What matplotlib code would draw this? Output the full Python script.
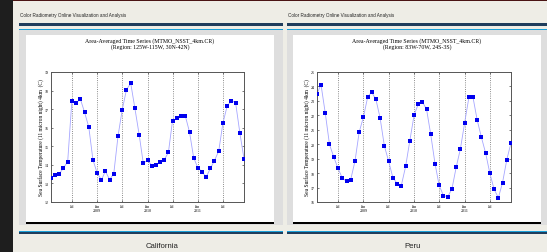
import matplotlib
matplotlib.use('Agg')
import matplotlib.pyplot as plt
from matplotlib.patches import Rectangle
import pandas as pd

# monthly SST, Feb 2008 .. Dec 2011
months = pd.date_range('2008-02-01', '2011-12-01', freq='MS')
california = [13.28, 13.48, 13.52, 13.82, 14.18, 17.42, 17.33, 17.54, 16.84, 16.03,
              14.27, 13.55, 13.19, 13.66, 13.21, 13.53, 15.56, 16.95, 18.05, 18.39,
              17.05, 15.63, 14.08, 14.26, 13.96, 14.00, 14.15, 14.26, 14.67, 16.38,
              16.50, 16.63, 16.65, 15.77, 14.39, 13.83, 13.63, 13.33, 13.81, 14.23,
              14.75, 16.24, 17.17, 17.46, 17.35, 15.72, 14.33]
peru = [23.49, 24.12, 22.13, 19.99, 19.11, 18.34, 17.67, 17.42, 17.55, 18.83,
        20.83, 21.89, 23.29, 23.61, 23.10, 21.82, 19.87, 18.85, 17.69, 17.28,
        17.14, 18.46, 20.22, 22.01, 22.80, 22.95, 22.42, 20.69, 18.66, 17.15,
        16.44, 16.37, 16.90, 18.42, 19.67, 21.50, 23.28, 23.30, 21.68, 20.50,
        19.39, 18.01, 16.88, 16.30, 17.34, 18.94, 20.10]
tick_dates = pd.to_datetime(['2008-07-01', '2009-01-01', '2009-07-01', '2010-01-01',
                             '2010-07-01', '2011-01-01', '2011-07-01'])
tick_labels = ['Jul', 'Jan\n2009', 'Jul', 'Jan\n2010', 'Jul', 'Jan\n2011', 'Jul']

W, H = 547, 253
fig = plt.figure(figsize=(W / 100, H / 100), dpi=100, facecolor='#eeede6')


def box(x0, y0, x1, y1, color):
    fig.add_artist(Rectangle((x0 / W, 1 - y1 / H), (x1 - x0) / W, (y1 - y0) / H,
                             transform=fig.transFigure, color=color, lw=0, zorder=-5))


def ftext(x, y, s, **kw):
    fig.text(x / W, 1 - y / H, s, **kw)


box(0, 0, W, 2, '#4a1414')
box(0, 0, 13, H, '#1e1e1e')

panels = [
    (19, 283, 26, 274, 51, 244, california, (12, 19), 'California', 162,
     '(Region: 125W-115W, 30N-42N)'),
    (287, 547, 293, 541, 317, 511, peru, (16, 25), 'Peru', 413,
     '(Region: 83W-70W, 24S-3S)'),
]

for px0, px1, wx0, wx1, ax0, ax1, vals, ylim, name, name_x, region in panels:
    box(px0, 24, px1, 27, '#1f3d5c')
    box(px0, 29.5, px1, 31, '#19a0d8')
    box(px0, 31, px1, 226, '#dedede')
    box(wx0, 36, wx1, 223, 'white')
    box(wx0, 223, wx1, 224.5, 'black')
    box(px0, 231.5, px1, 233, '#19a0d8')
    box(px0, 233, px1, 234.5, '#1f3d5c')
    ftext(px0 + 1, 15.5, 'Color Radiometry Online Visualization and Analysis',
          fontsize=3.3, family='Liberation Sans', va='center', color='#222222')
    ftext(name_x, 247, name, fontsize=5.6, family='Liberation Sans',
          ha='center', va='center', color='#222222')
    cx = (wx0 + wx1) / 2
    ftext(cx, 44.5, 'Area-Averaged Time Series (MTMO_NSST_4km.CR)\n' + region,
          fontsize=4.2, family='Liberation Serif', ha='center', va='center',
          linespacing=1.0)

    ax = fig.add_axes([ax0 / W, 1 - 203 / H, (ax1 - ax0) / W, 130 / H])
    ax.plot(months, vals, color='#a6a6ff', lw=0.6, zorder=2)
    ax.plot(months, vals, ls='none', marker='s', ms=2.2, mew=0, color='#0000ee',
            zorder=3)
    ax.set_xlim(months[0], months[-1])
    ax.set_ylim(*ylim)
    ax.set_yticks(range(ylim[0], ylim[1] + 1))
    ax.set_xticks(tick_dates)
    ax.set_xticklabels(tick_labels, linespacing=1.0)
    ax.grid(axis='x', ls=':', color='#666666', lw=0.6)
    ax.tick_params(direction='in', length=1.6, width=0.5, labelsize=2.9, pad=1.8,
                   top=True, right=True, colors='#444444', labelcolor='black')
    for lab in ax.get_xticklabels() + ax.get_yticklabels():
        lab.set_family('Liberation Serif')
    for sp in ax.spines.values():
        sp.set_color('#555555')
        sp.set_linewidth(0.7)
    ftext(ax0 - 10, 138, 'Sea Surface Temperature (11 micron night) 4km  (C)',
          rotation=90, fontsize=4.0, family='Liberation Serif', ha='center',
          va='center')

fig.savefig('out.png', dpi=100, facecolor=fig.get_facecolor())
